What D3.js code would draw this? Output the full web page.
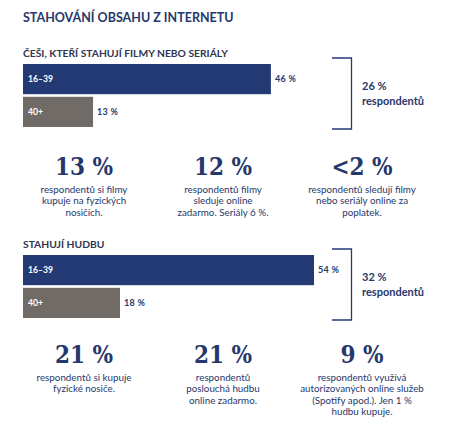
<!DOCTYPE html>
<html><head><meta charset="utf-8">
<script src="https://cdn.jsdelivr.net/npm/d3@7"></script>
<style>body{margin:0;background:#fff}svg{display:block}</style>
</head><body>
<div id="chart"></div>
<script>
// ---- data ----
const title = "STAHOVÁNÍ OBSAHU Z INTERNETU";
const sectionTitles = ["ČEŠI, KTEŘÍ STAHUJÍ FILMY NEBO SERIÁLY", "STAHUJÍ HUDBU"];
const ageGroups = ["16–39", "40+"];
const filmValues = [46, 13];
const musicValues = [54, 18];
const totals = [26, 32];
const totalLabel = "respondentů";
const filmStats = ["13 %", "12 %", "<2 %"];
const filmTexts = [
  ["respondentů si filmy", "kupuje na fyzických", "nosičích."],
  ["respondentů filmy", "sleduje online", "zadarmo. Seriály 6 %."],
  ["respondentů sledují filmy", "nebo seriály online za", "poplatek."]
];
const musicStats = ["21 %", "21 %", "9 %"];
const musicTexts = [
  ["respondentů si kupuje", "fyzické nosiče."],
  ["respondentů", "poslouchá hudbu", "online zadarmo."],
  ["respondentů využívá", "autorizovaných online služeb", "(Spotify apod.). Jen 1 %", "hudbu kupuje."]
];

// ---- drawing ----
const W = 451, H = 435;
const navy = "#233a74", gray = "#706b67", textNavy = "#26386b";
const svg = d3.select("#chart").append("svg").attr("width", W).attr("height", H);
const font = "Lato, 'Open Sans', sans-serif";

const x = d3.scaleLinear().domain([0, 54]).range([23, 314]);
const color = d3.scaleOrdinal().domain(ageGroups).range([navy, gray]);
const colX = d3.scalePoint().domain([0, 1, 2]).range([84, 362]);

svg.append("text").attr("x", 23).attr("y", 22).text(title)
  .attr("font-family", font).attr("font-weight", 700).attr("font-size", 12.5).attr("fill", textNavy);

function section(cfg) {
  const g = svg.append("g");
  g.append("text").attr("x", 23).attr("y", cfg.titleY).text(cfg.title)
    .attr("font-family", font).attr("font-weight", 700).attr("font-size", 10.3).attr("fill", "#2f3550");
  const y = d3.scaleBand().domain(ageGroups).range([cfg.barTop, cfg.barTop + 63]).paddingInner(0.08);
  const rows = g.selectAll(".row").data(ageGroups.map((a, i) => ({a, v: cfg.values[i]}))).join("g");
  rows.append("rect").attr("x", x(0)).attr("y", d => y(d.a))
    .attr("width", d => x(d.v) - x(0)).attr("height", y.bandwidth()).attr("fill", d => color(d.a));
  rows.append("text").attr("x", x(0) + 5).attr("y", d => y(d.a) + y.bandwidth() / 2 + 3.2)
    .text(d => d.a).attr("font-family", font).attr("font-weight", 700).attr("font-size", 8.6).attr("fill", "#fff");
  rows.append("text").attr("x", d => x(d.v) + 4).attr("y", d => y(d.a) + y.bandwidth() / 2 + 3.2)
    .text(d => d.v + " %").attr("font-family", font).attr("font-weight", 700).attr("font-size", 9)
    .attr("letter-spacing", 0.3).attr("fill", textNavy);
  // bracket
  const bt = cfg.barTop - 6, bb = cfg.barTop + 65;
  g.append("path").attr("d", `M332,${bt}H351.5V${bb}H332`).attr("fill", "none").attr("stroke", navy).attr("stroke-width", 1.3);
  const mid = (bt + bb) / 2;
  g.append("text").attr("x", 362).attr("y", mid - 4).text(cfg.total + " %")
    .attr("font-family", font).attr("font-weight", 700).attr("font-size", 11).attr("fill", textNavy);
  g.append("text").attr("x", 362).attr("y", mid + 11).text(totalLabel)
    .attr("font-family", font).attr("font-weight", 700).attr("font-size", 11).attr("fill", textNavy);
  // stats
  const st = g.selectAll(".stat").data(cfg.stats.map((s, i) => ({s, lines: cfg.texts[i], i}))).join("g")
    .attr("transform", d => `translate(${colX(d.i)},0)`);
  st.append("text").attr("text-anchor", "middle").attr("y", cfg.statY).text(d => d.s)
    .attr("font-family", "'DejaVu Serif Condensed', 'DejaVu Serif', serif").attr("font-stretch", "condensed")
    .attr("font-weight", 700).attr("font-size", 24).attr("fill", textNavy);
  st.selectAll(".l").data(d => d.lines).join("text").attr("text-anchor", "middle")
    .attr("y", (d, j) => cfg.statY + 18 + j * 11.3).text(d => d)
    .attr("font-family", font).attr("font-size", 9.8).attr("fill", textNavy);
}

section({title: sectionTitles[0], titleY: 57, barTop: 64, values: filmValues, total: totals[0],
  stats: filmStats, texts: filmTexts, statY: 175});
section({title: sectionTitles[1], titleY: 248, barTop: 255, values: musicValues, total: totals[1],
  stats: musicStats, texts: musicTexts, statY: 363});
</script>
</body></html>
